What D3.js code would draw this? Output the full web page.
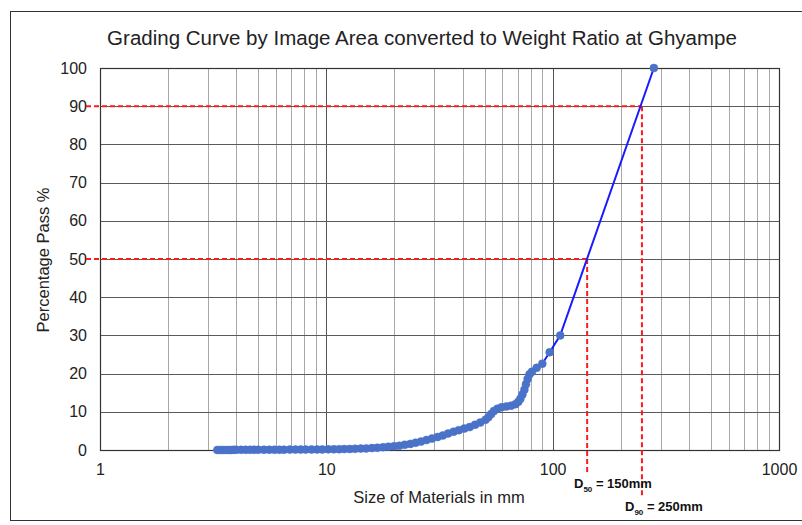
<!DOCTYPE html>
<html><head><meta charset="utf-8">
<script src="https://cdn.jsdelivr.net/npm/d3@7/dist/d3.min.js"></script>
<style>
html,body{margin:0;padding:0;background:#fff;}
svg text{font-family:"Liberation Sans",Arial,sans-serif;}
</style></head>
<body><svg id="c" width="802" height="525"></svg>
<script>
const title = "Grading Curve by Image Area converted to Weight Ratio at Ghyampe";
const xTitle = "Size of Materials in mm";
const yTitle = "Percentage Pass %";
const xTicks = [1, 10, 100, 1000];
const yTicks = [0,10,20,30,40,50,60,70,80,90,100];
const sizes = [3.3,3.4,3.5,3.6,3.7,3.8,3.9,4.0,4.2,4.4,4.6,4.8,5.0,5.3,5.6,5.9,6.2,6.5,6.9,7.3,7.7,8.1,8.6,9.1,9.6,10.2,10.8,11.4,12.0,12.7,13.4,14.2,15.0,15.9,16.8,17.8,18.8,19.9,21.0,22.2,23.5,24.8,26.2,27.7,29.3,31.0,32.7,34.5,36.5,38.5,40.7,43.0,45.4,47.9,50.5,52.0,53.5,55.0,57.0,59.5,62.5,65.5,68.5,70.5,72.0,73.5,75.0,76.2,77.5,79.0,81.0,85.0,90.0,97.0,108.0,280.0];
const pass = [0,0,0,0,0,0,0.05,0.05,0.05,0.05,0.05,0.06,0.06,0.07,0.07,0.08,0.08,0.09,0.1,0.1,0.11,0.12,0.13,0.14,0.15,0.17,0.19,0.21,0.24,0.27,0.31,0.36,0.42,0.5,0.6,0.72,0.86,1.0,1.1,1.35,1.6,1.9,2.2,2.6,3.0,3.4,3.8,4.3,4.8,5.2,5.6,6.0,6.6,7.2,7.9,8.6,9.4,10.2,10.8,11.2,11.4,11.6,12.0,12.6,13.4,14.5,15.8,17.2,18.6,19.8,20.5,21.5,22.6,25.6,30.0,100.0];
const dLines = [
  {pct: 50, size: 142, label: "50", text: " = 150mm", yEnd: 472},
  {pct: 90, size: 248, label: "90", text: " = 250mm", yEnd: 497}
];

const svg = d3.select("#c");
const L = 100, R = 779, T = 68, B = 450;
const x = d3.scaleLog().domain([1, 1000]).range([L, R]);
const y = d3.scaleLinear().domain([0, 100]).range([B, T]);

// outer frame
svg.append("rect").attr("x",10.5).attr("y",11.5).attr("width",800).attr("height",509)
  .attr("fill","#fff").attr("stroke","#333").attr("stroke-width",1);

// minor vertical grid
const minor = [];
for (let d = 1; d < 1000; d *= 10) for (let k = 2; k <= 9; k++) minor.push(d * k);
svg.append("g").selectAll("line").data(minor).join("line")
  .attr("x1", d => Math.round(x(d)) + 0.5).attr("x2", d => Math.round(x(d)) + 0.5)
  .attr("y1", T).attr("y2", B).attr("stroke", "#a8a8a8").attr("stroke-width", 1);
// major vertical grid
svg.append("g").selectAll("line").data(xTicks).join("line")
  .attr("x1", d => Math.round(x(d)) + 0.5).attr("x2", d => Math.round(x(d)) + 0.5)
  .attr("y1", T).attr("y2", B).attr("stroke", "#555").attr("stroke-width", 1);
// horizontal grid
svg.append("g").selectAll("line").data(yTicks).join("line")
  .attr("x1", L).attr("x2", R)
  .attr("y1", d => Math.round(y(d)) + 0.5).attr("y2", d => Math.round(y(d)) + 0.5)
  .attr("stroke", "#5a5a5a").attr("stroke-width", 1);
// plot border
svg.append("rect").attr("x", L + 0.5).attr("y", T + 0.5).attr("width", R - L).attr("height", B - T)
  .attr("fill", "none").attr("stroke", "#333").attr("stroke-width", 1.2);

// axes labels via d3 axes (no domain/ticks lines)
const xAxis = svg.append("g").attr("transform", `translate(0,${B})`)
  .call(d3.axisBottom(x).tickValues(xTicks).tickFormat(d3.format("d")).tickSize(0).tickPadding(14));
xAxis.select(".domain").remove();
xAxis.selectAll("text").attr("font-size", 16).attr("fill", "#222").attr("font-family", "Liberation Sans, Arial, sans-serif");
const yAxis = svg.append("g").attr("transform", `translate(${L},0)`)
  .call(d3.axisLeft(y).tickValues(yTicks).tickSize(0).tickPadding(13));
yAxis.select(".domain").remove();
yAxis.selectAll("text").attr("font-size", 16).attr("fill", "#222").attr("font-family", "Liberation Sans, Arial, sans-serif");

// red dashed lines
const red = svg.append("g");
dLines.forEach(d => {
  red.append("line").attr("x1", 86).attr("x2", x(d.size)).attr("y1", y(d.pct)).attr("y2", y(d.pct))
    .attr("stroke", "#ff1a1a").attr("stroke-width", 2).attr("stroke-dasharray", "5,3");
  red.append("line").attr("x1", x(d.size)).attr("x2", x(d.size)).attr("y1", y(d.pct)).attr("y2", d.yEnd)
    .attr("stroke", "#ff1a1a").attr("stroke-width", 2).attr("stroke-dasharray", "5,3");
});

// curve
const pts = sizes.map((s, i) => [s, pass[i]]);
svg.append("path").datum(pts)
  .attr("d", d3.line().x(d => x(d[0])).y(d => y(d[1])))
  .attr("fill", "none").attr("stroke", "#1a1aff").attr("stroke-width", 2);
svg.append("g").selectAll("circle").data(pts).join("circle")
  .attr("cx", d => x(d[0])).attr("cy", d => y(d[1])).attr("r", 4)
  .attr("fill", "#4a72c9").attr("stroke", "#4a72c9").attr("stroke-width", 0.5);

// D labels
const dlab = [{d: dLines[0], x: 574, y: 488}, {d: dLines[1], x: 625, y: 511}];
dlab.forEach(o => {
  const t = svg.append("text").attr("x", o.x).attr("y", o.y)
    .attr("font-size", 13).attr("font-weight", "bold").attr("fill", "#111");
  t.append("tspan").text("D");
  t.append("tspan").attr("dy", 4).attr("font-size", 8).text(o.d.label);
  t.append("tspan").attr("dy", -4).text(o.d.text);
});

// titles
svg.append("text").attr("x", 422).attr("y", 45).attr("text-anchor", "middle")
  .attr("font-size", 20.5).attr("fill", "#222").text(title);
svg.append("text").attr("x", 439).attr("y", 503).attr("text-anchor", "middle")
  .attr("font-size", 16.5).attr("fill", "#222").text(xTitle);
svg.append("text").attr("transform", "translate(49,260) rotate(-90)").attr("text-anchor", "middle")
  .attr("font-size", 16.5).attr("fill", "#222").text(yTitle);
</script></body></html>
